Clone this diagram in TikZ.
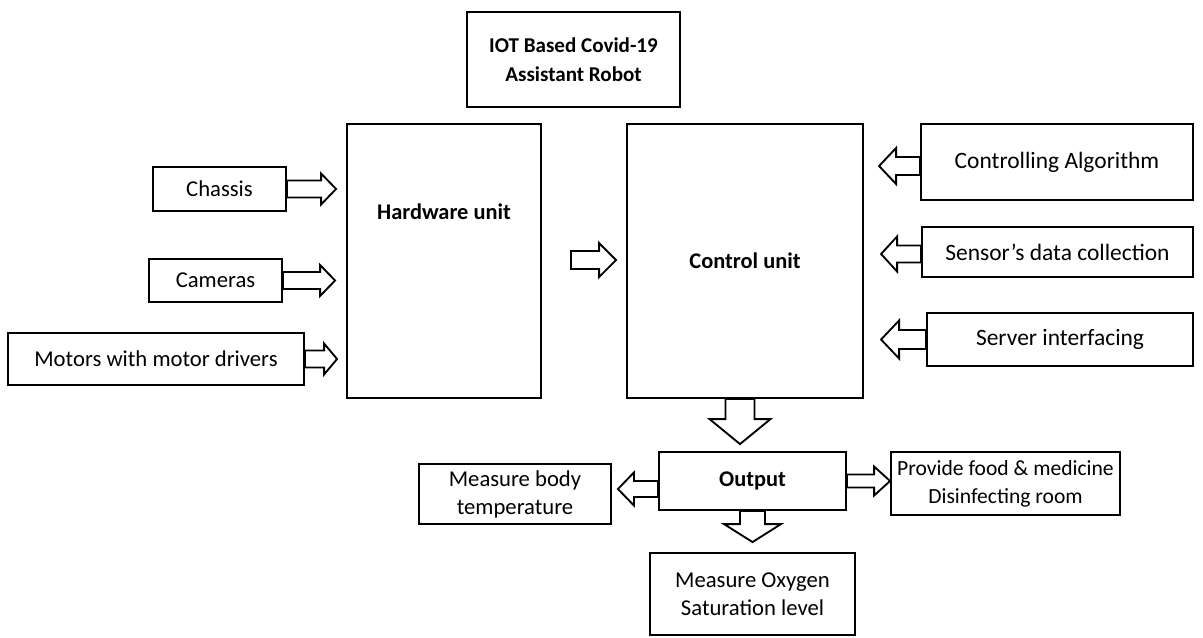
\documentclass[tikz,border=0pt]{standalone}
\usepackage{fontspec}
\setmainfont{Carlito}
\usetikzlibrary{calc}
\tikzset{
  box/.style={draw, line width=1.4pt, inner sep=0pt, align=center, font=\fontsize{17}{21}\selectfont},
  bbox/.style={box, font=\fontsize{16.8}{21}\selectfont\bfseries},
  lbl/.style={inner sep=0pt, align=center, font=\fontsize{16.8}{21}\selectfont\bfseries},
  big/.style={font=\fontsize{17.6}{21}\selectfont},
  blk/.style={draw, line width=1.4pt, fill=white, line join=miter},
}
\newcommand\rarr[5]{%
  \draw[blk] let \p1=#1, \p2=#2 in
   (\x1,{\y1+#3*0.75pt}) -- ({\x2-#5*0.75pt},{\y1+#3*0.75pt}) -- ({\x2-#5*0.75pt},{\y1+#4*0.75pt})
   -- (\x2,\y1) -- ({\x2-#5*0.75pt},{\y1-#4*0.75pt}) -- ({\x2-#5*0.75pt},{\y1-#3*0.75pt}) -- (\x1,{\y1-#3*0.75pt}) -- cycle;}
\newcommand\larr[5]{%
  \draw[blk] let \p1=#1, \p2=#2 in
   (\x1,{\y1+#3*0.75pt}) -- ({\x2+#5*0.75pt},{\y1+#3*0.75pt}) -- ({\x2+#5*0.75pt},{\y1+#4*0.75pt})
   -- (\x2,\y1) -- ({\x2+#5*0.75pt},{\y1-#4*0.75pt}) -- ({\x2+#5*0.75pt},{\y1-#3*0.75pt}) -- (\x1,{\y1-#3*0.75pt}) -- cycle;}
\newcommand\darr[5]{%
  \draw[blk] let \p1=#1, \p2=#2 in
   ({\x1+#3*0.75pt},\y1) -- ({\x1+#3*0.75pt},{\y2+#5*0.75pt}) -- ({\x1+#4*0.75pt},{\y2+#5*0.75pt})
   -- (\x1,\y2) -- ({\x1-#4*0.75pt},{\y2+#5*0.75pt}) -- ({\x1-#3*0.75pt},{\y2+#5*0.75pt}) -- ({\x1-#3*0.75pt},\y1) -- cycle;}
\begin{document}
\begin{tikzpicture}[x=0.75pt,y=-0.75pt]
\useasboundingbox[fill=white] (0,0) rectangle (1203,637);
% boxes
\node[bbox, font=\fontsize{15.8}{22}\selectfont\bfseries, minimum width=213*0.75pt, minimum height=95*0.75pt] (title) at (573.5,59.5) {IOT Based Covid-19\\Assistant Robot};
\node[box, minimum width=194*0.75pt, minimum height=274*0.75pt] (hw) at (444,261) {};
\node[lbl] (hwl) at (444,212) {Hardware unit};
\node[bbox, minimum width=236*0.75pt, minimum height=274*0.75pt] (ctrl) at (745,261) {Control unit};
\node[box, minimum width=133*0.75pt, minimum height=44*0.75pt] (chassis) at (219.5,189) {Chassis};
\node[box, minimum width=133*0.75pt, minimum height=43*0.75pt] (cam) at (215.5,280.5) {Cameras};
\node[box, minimum width=296*0.75pt, minimum height=52*0.75pt] (mot) at (156,359) {Motors with motor drivers};
\node[box, big, minimum width=272*0.75pt, minimum height=76*0.75pt] (alg) at (1057,162) {Controlling Algorithm};
\node[box, big, minimum width=271*0.75pt, minimum height=50*0.75pt] (sens) at (1057.5,252) {Sensor’s data collection};
\node[box, big, minimum width=266*0.75pt, minimum height=53*0.75pt] (serv) at (1060,339.5) {Server interfacing};
\node[bbox, minimum width=187*0.75pt, minimum height=58*0.75pt] (out) at (752.5,481) {Output};
\node[box, minimum width=192*0.75pt, minimum height=60*0.75pt] (temp) at (515,494) {Measure body\\temperature};
\node[box, font=\fontsize{16.2}{21}\selectfont, minimum width=229*0.75pt, minimum height=63*0.75pt] (food) at (1005.5,483.5) {Provide food \& medicine\\Disinfecting room};
\node[box, minimum width=205*0.75pt, minimum height=82*0.75pt] (oxy) at (752.5,594) {Measure Oxygen\\Saturation level};
% arrows
\rarr{(chassis.east)}{($(hw.west)+(-10,0)$)}{8.5}{15.5}{15}
\rarr{(cam.east)}{($(hw.west)+(-11,0)$)}{8.5}{15.5}{15}
\rarr{(mot.east)}{($(hw.west)+(-9,0)$)}{8.5}{15.5}{13}
\rarr{($(hw.east)+(29,-1)$)}{($(ctrl.west)+(-10,0)$)}{9}{17}{17}
\larr{($(alg.west)+(0,4)$)}{($(alg.west)+(-41,0)$)}{9}{18}{17}
\larr{($(sens.west)+(0,2)$)}{($(sens.west)+(-40,0)$)}{8.5}{17.5}{16}
\larr{(serv.west)}{($(serv.west)+(-45,0)$)}{9.5}{19}{18}
\darr{($(ctrl.south)+(-5,0)$)}{($(out.north)+(0,-7)$)}{14.5}{30.5}{25}
\darr{(out.south)}{($(oxy.north)+(0,-10)$)}{12.5}{28.5}{18}
\larr{($(out.west)+(0,8)$)}{($(temp.east)+(6,0)$)}{8}{16.5}{16}
\rarr{(out.east)}{(food.west)}{6.5}{14.5}{16}
\end{tikzpicture}
\end{document}
